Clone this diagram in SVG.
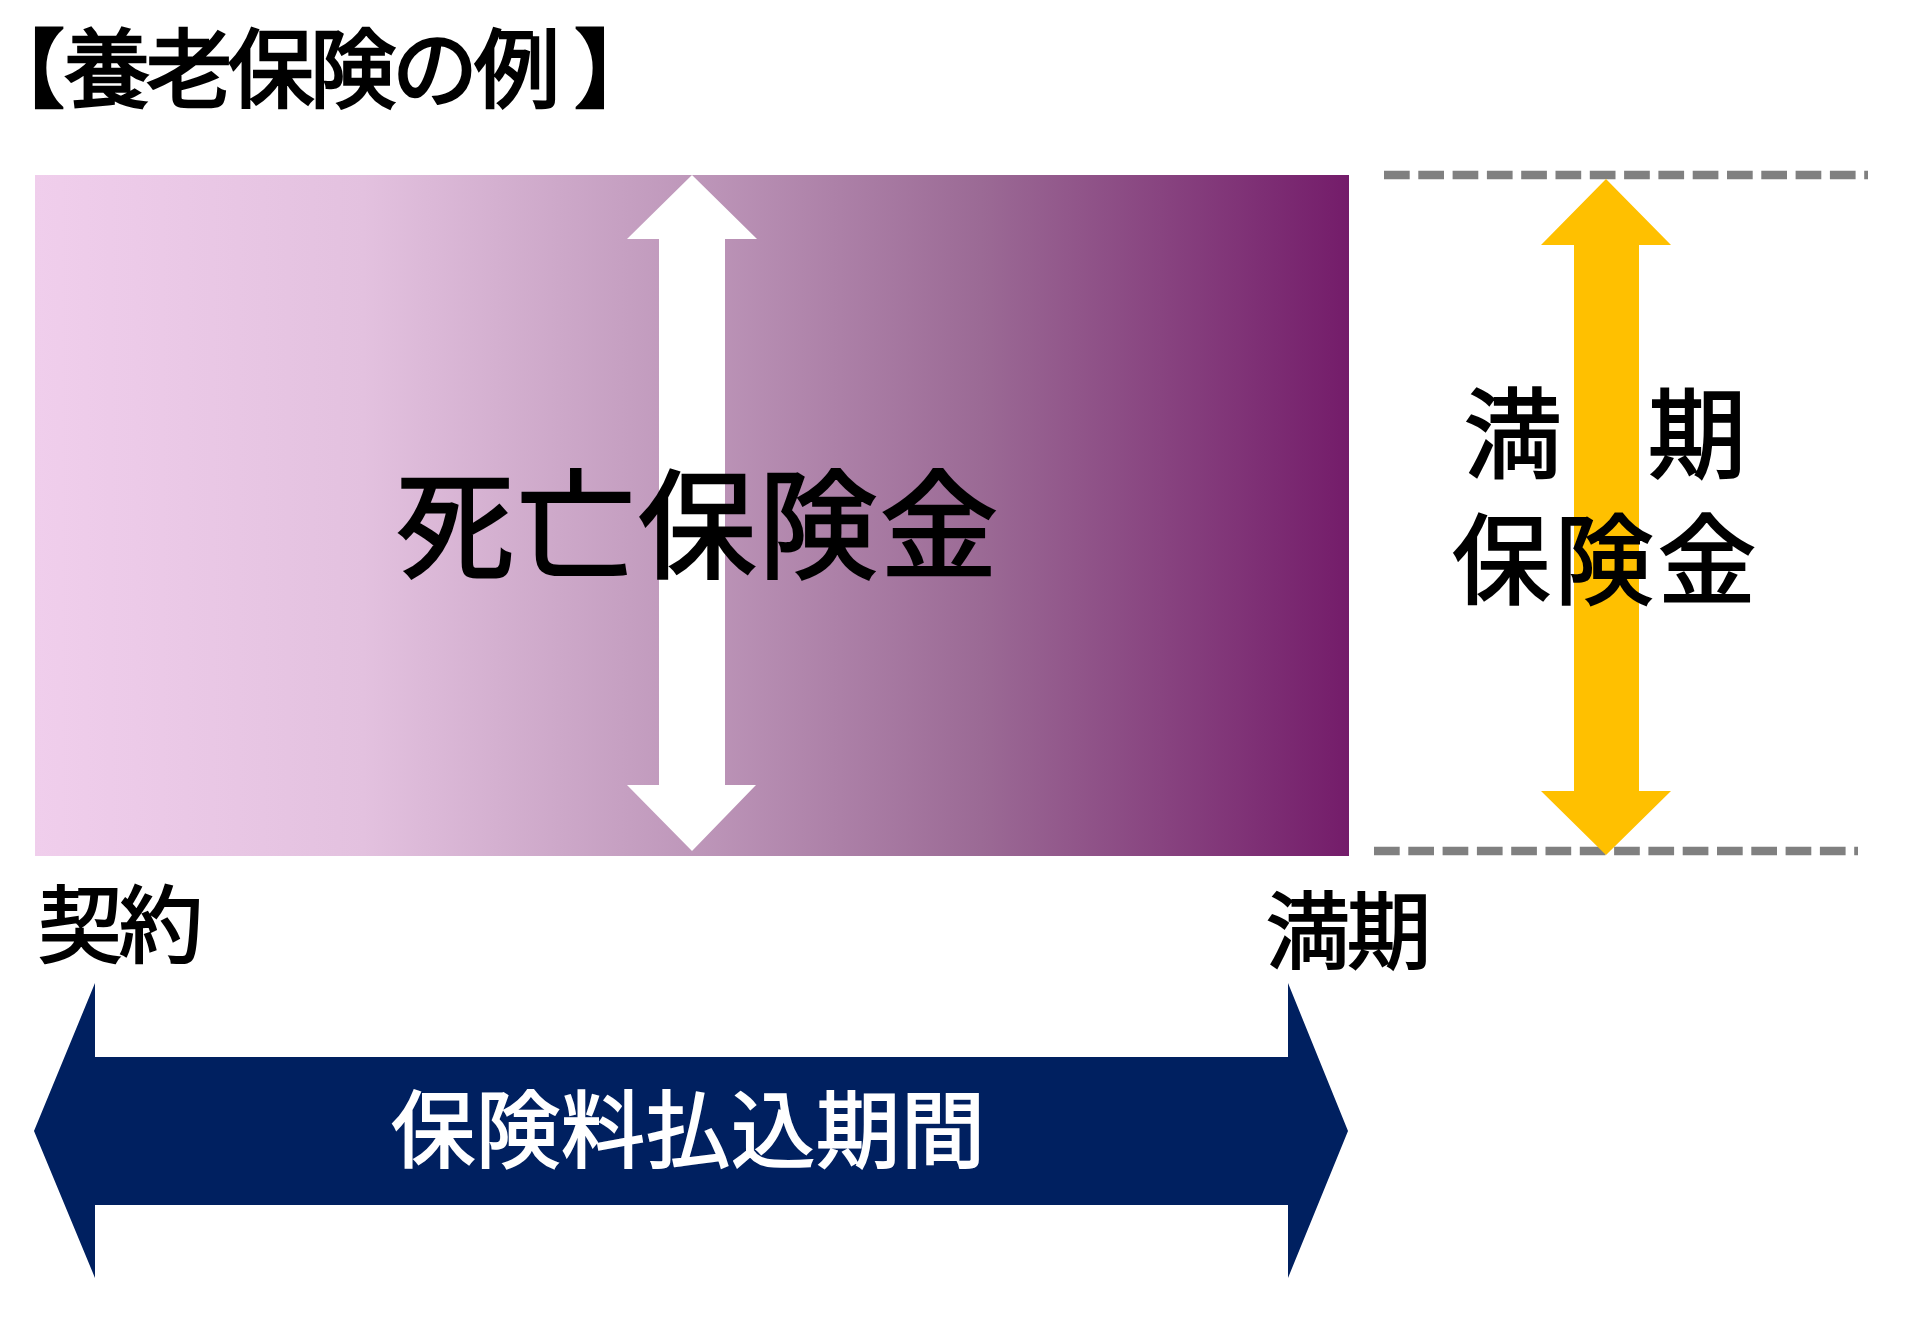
<svg xmlns="http://www.w3.org/2000/svg" width="1920" height="1324" viewBox="0 0 1920 1324">
  <style>
    text { font-family: "Noto Sans CJK JP", "Noto Sans CJK SC", sans-serif; fill: #000; }
    .title { font-size: 86px; stroke: #000; stroke-width: 2.6; }
    .pb { font-feature-settings: "palt"; }
    .big { font-size: 118px; letter-spacing: 3px; stroke: #000; stroke-width: 2.5; }
    .mid { font-size: 98px; stroke: #000; stroke-width: 2.2; }
    .lbl { font-size: 84px; letter-spacing: -3px; stroke: #000; stroke-width: 2; }
    .band { font-size: 84px; letter-spacing: 1px; fill: #FFFFFF; stroke: #FFFFFF; stroke-width: 1.8; }
    .dash { stroke: #808080; stroke-width: 8.5; stroke-dasharray: 25.7 8.6; fill: none; }
  </style>
  <defs>
    <linearGradient id="purple" x1="0" y1="0" x2="1" y2="0">
      <stop offset="0" stop-color="#F0CEEC"/>
      <stop offset="0.25" stop-color="#E3C1DF"/>
      <stop offset="0.5" stop-color="#BE97BA"/>
      <stop offset="0.72" stop-color="#9B6A95"/>
      <stop offset="1" stop-color="#741C6A"/>
    </linearGradient>
  </defs>
  <rect width="1920" height="1324" fill="#FFFFFF"/>

  <g id="title">
    <text class="title" y="101"><tspan class="pb" x="20">【</tspan><tspan x="64" letter-spacing="-4">養老保険の例</tspan><tspan class="pb" x="576">】</tspan></text>
  </g>

  <g id="death-benefit">
    <rect x="35" y="175" width="1314" height="681" fill="url(#purple)"/>
  </g>

  <g id="connectors">
    <polygon id="death-arrow" fill="#FFFFFF" points="692,175 757,239 725,239 725,785 756,785 692,851 627,785 659,785 659,239 627,239"/>
    <line class="dash" x1="1384" y1="175" x2="1868" y2="175"/>
    <line class="dash" x1="1374" y1="851" x2="1858" y2="851"/>
    <polygon id="maturity-arrow" fill="#FFC000" points="1606,179 1671,245 1639,245 1639,791 1671,791 1606,855 1541,791 1574,791 1574,245 1541,245"/>
  </g>

  <g id="death-benefit-label">
    <text class="big" x="396" y="569">死亡保険金</text>
  </g>

  <g id="maturity-benefit">
    <text class="mid"><tspan x="1464" y="470">満</tspan><tspan x="1648" y="470">期</tspan><tspan x="1452" y="596" letter-spacing="5">保険金</tspan></text>
  </g>

  <g id="contract">
    <text class="lbl" x="38" y="956">契約</text>
  </g>

  <g id="maturity">
    <text class="lbl" x="1266" y="962">満期</text>
  </g>

  <g id="premium-period">
    <polygon fill="#002060" points="34,1131 95,983 95,1057 1288,1057 1288,983 1348,1131 1288,1278 1288,1205 95,1205 95,1278"/>
    <text class="band" x="391" y="1161">保険料払込期間</text>
  </g>
</svg>
